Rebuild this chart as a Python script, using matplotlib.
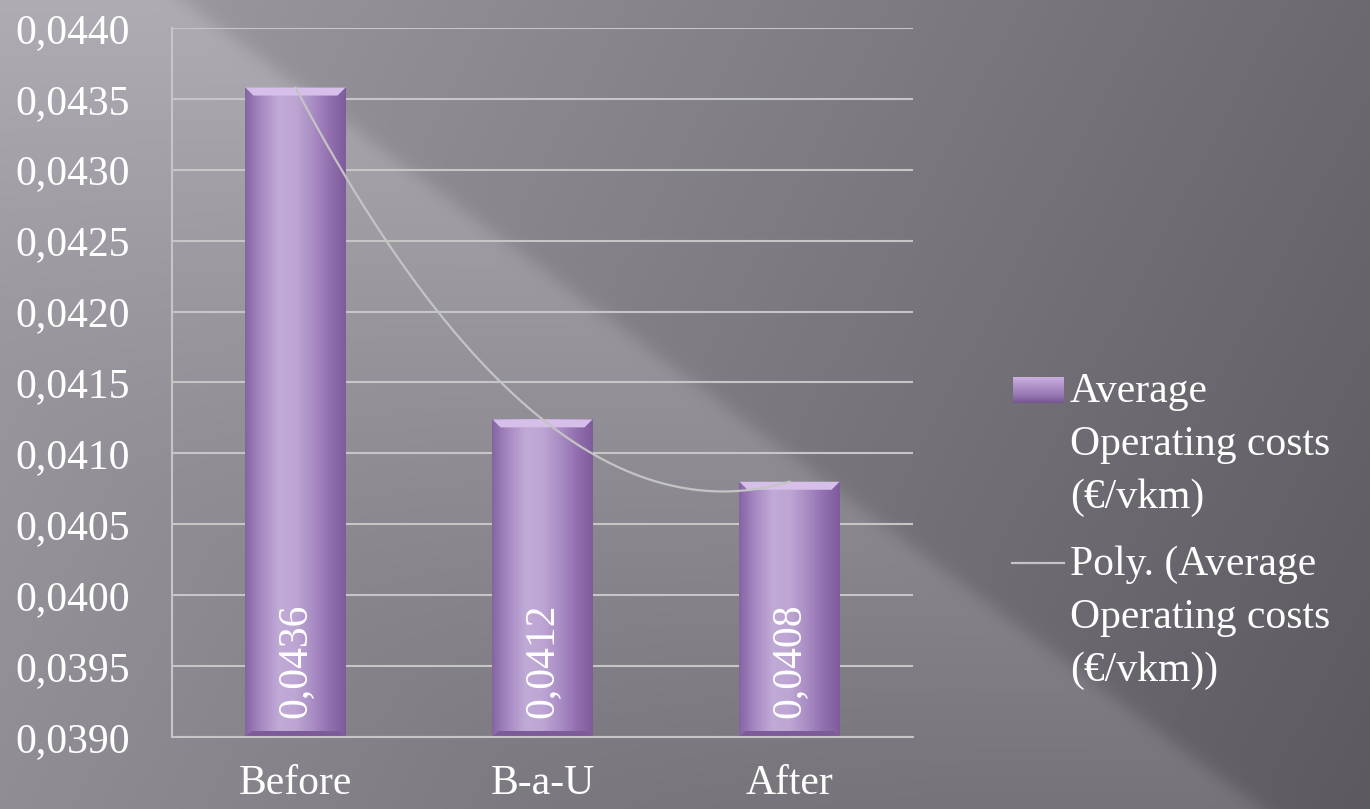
import numpy as np
import matplotlib
matplotlib.use("Agg")
import matplotlib.pyplot as plt
from matplotlib.patches import Polygon
from matplotlib.lines import Line2D

plt.rcParams['font.family'] = ['Liberation Serif', 'DejaVu Serif']

# data
categories = ["Before", "B-a-U", "After"]
costs = [0.04358, 0.04124, 0.04080]
yticks = [0.0390, 0.0395, 0.0400, 0.0405, 0.0410, 0.0415,
          0.0420, 0.0425, 0.0430, 0.0435, 0.0440]
legend_bar = ["Average", "Operating costs", "(€/vkm)"]
legend_trend = ["Poly. (Average", "Operating costs", "(€/vkm))"]

W, H = 1370, 809
fig = plt.figure(figsize=(W / 100, H / 100), dpi=100)

# background: grey gradient with a soft light diagonal streak
xx, yy = np.meshgrid(np.arange(W), np.arange(H))
base = 160 - 0.038 * xx - 0.02 * yy
d = (xx - 183) * 0.6 - yy * 0.8
band = 22 * np.clip(1 + d / 420, 0, 1) ** 1.3 / (1 + np.exp(d / 5))
g = base + band
bg = np.dstack([g, g - 2, g + 4]) / 255
bax = fig.add_axes([0, 0, 1, 1], zorder=-10)
bax.imshow(np.clip(bg, 0, 1), extent=[0, 1, 0, 1], aspect='auto')
bax.axis('off')

ax = fig.add_axes([172 / W, 1 - 737 / H, (913 - 172) / W, (737 - 28) / H])
ax.patch.set_alpha(0)

x = np.arange(len(categories))
width = 0.405
ymin, ymax = yticks[0], yticks[-1]
bars = ax.bar(x, np.array(costs) - ymin, bottom=ymin, width=width,
              color='#a888c4', zorder=2)

# horizontal shading of the bars
prof = np.array([[134, 100, 163], [168, 139, 195], [192, 170, 214],
                 [189, 166, 211], [170, 142, 197], [147, 113, 177],
                 [126, 92, 156]]) / 255
pos = np.linspace(0, 1, len(prof))
t = np.linspace(0, 1, 200)
grad = np.stack([np.interp(t, pos, prof[:, c]) for c in range(3)], axis=-1)[None, :, :]

dy = (ymax - ymin) / 709
dx = 3 / 741
for b, v in zip(bars, costs):
    x0, x1 = b.get_x(), b.get_x() + b.get_width()
    im = ax.imshow(grad, extent=(x0, x1, ymin, v), aspect='auto', zorder=2.1)
    im.set_clip_path(b)
    cap = Polygon([(x0, v), (x1, v), (x1 - 8 * dx, v - 8 * dy), (x0 + 8 * dx, v - 8 * dy)],
                  closed=True, facecolor='#d6bfe9', edgecolor='none', zorder=2.2)
    ax.add_patch(cap)
    foot = Polygon([(x0, ymin), (x1, ymin), (x1 - 6 * dx, ymin + 6 * dy), (x0 + 6 * dx, ymin + 6 * dy)],
                   closed=True, facecolor='#7d5a98', edgecolor='none', zorder=2.2)
    ax.add_patch(foot)
    ax.annotate(f"{v:.4f}".replace('.', ','), xy=(b.get_x() + width / 2, ymin),
                xytext=(0, 14), textcoords='offset points', rotation=90,
                ha='center', va='bottom', color='white', fontsize=30, zorder=3)

# 2nd order polynomial trend line
coef = np.polyfit(x, costs, 2)
xs = np.linspace(x[0], x[-1], 200)
ax.plot(xs, np.polyval(coef, xs), color='#c4c4c4', lw=1.6, zorder=3)

ax.set_xlim(-0.5, 2.5)
ax.set_ylim(ymin, ymax)
ax.set_yticks(yticks)
ax.set_yticklabels([f"{v:.4f}".replace('.', ',') for v in yticks])
ax.set_xticks(x)
ax.set_xticklabels(categories)
ax.tick_params(axis='y', length=0, pad=30, labelsize=30, labelcolor='white')
ax.tick_params(axis='x', length=0, pad=20, labelsize=30, labelcolor='white')
ax.yaxis.grid(True, color='#c6c6c6', lw=1.5, zorder=0)
ax.set_axisbelow(True)
for s in ['top', 'right']:
    ax.spines[s].set_visible(False)
for s in ['left', 'bottom']:
    ax.spines[s].set_color('#c6c6c6')
    ax.spines[s].set_linewidth(1.5)

# legend
lax = fig.add_axes([1013 / W, 1 - 403 / H, 51 / W, 26 / H])
vprof = np.array([[205, 178, 226], [186, 156, 210], [166, 136, 193],
                  [148, 116, 176], [118, 86, 144]]) / 255
tv = np.linspace(0, 1, 40)
vgrad = np.stack([np.interp(tv, np.linspace(0, 1, 5), vprof[:, c]) for c in range(3)], axis=-1)[:, None, :]
lax.imshow(vgrad, extent=[0, 1, 0, 1], aspect='auto')
lax.axis('off')
fig.add_artist(Line2D([1012 / W, 1064 / W], [1 - 563 / H, 1 - 563 / H],
                      color='#c4c4c4', lw=1.6, transform=fig.transFigure))
for lines, base_y in [(legend_bar, 402), (legend_trend, 575)]:
    for i, s in enumerate(lines):
        fig.text(1070 / W, 1 - (base_y + 53 * i) / H, s, color='white',
                 fontsize=30, va='baseline', ha='left')

fig.savefig("out.png", dpi=100)
